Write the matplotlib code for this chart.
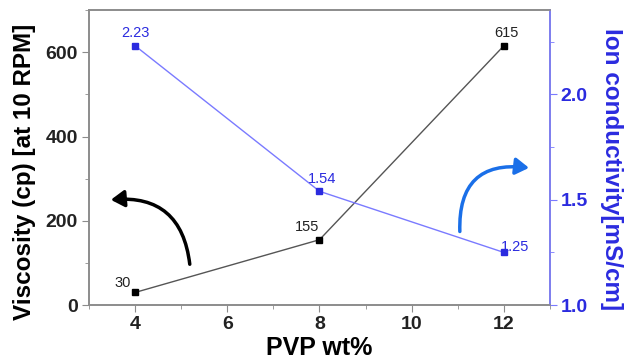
import matplotlib
matplotlib.use('Agg')
import matplotlib.pyplot as plt
from matplotlib.patches import FancyArrowPatch
from matplotlib.ticker import MultipleLocator

plt.rcParams['font.family'] = ['Liberation Sans', 'DejaVu Sans']

# data
pvp = [4, 8, 12]
viscosity = [30, 155, 615]
conductivity = [2.23, 1.54, 1.25]
visc_labels = ['30', '155', '615']
cond_labels = ['2.23', '1.54', '1.25']

blue = '#2b2bdf'
line_blue = '#7a7aff'
grey = '#8c8c8c'

fig = plt.figure(figsize=(6.24, 3.61), dpi=100)
ax = fig.add_axes([0.143, 0.155, 0.738, 0.817])
ax2 = ax.twinx()

ax.plot(pvp, viscosity, color='#555555', lw=1, marker='s', ms=5,
        mfc='black', mec='black')
ax2.plot(pvp, conductivity, color=line_blue, lw=1, marker='s', ms=5,
         mfc=blue, mec=blue)

# value labels
offs_v = [(-9, 2), (-9, 4), (2, 4)]
for x, y, t, o in zip(pvp, viscosity, visc_labels, offs_v):
    ax.annotate(t, (x, y), xytext=o, textcoords='offset points',
                ha='center', va='bottom', fontsize=10.5, color='#222222')
offs_c = [(0, 4), (2, 4), (8, -1)]
for x, y, t, o in zip(pvp, conductivity, cond_labels, offs_c):
    ax2.annotate(t, (x, y), xytext=o, textcoords='offset points',
                 ha='center', va='bottom', fontsize=10.5, color=blue)

ax.set_xlim(3, 13)
ax.set_ylim(0, 700)
ax2.set_ylim(1.0, 2.4)

ax.xaxis.set_major_locator(MultipleLocator(2))
ax.xaxis.set_minor_locator(MultipleLocator(1))
ax.yaxis.set_major_locator(MultipleLocator(200))
ax.yaxis.set_minor_locator(MultipleLocator(100))
ax2.yaxis.set_major_locator(MultipleLocator(0.5))
ax2.yaxis.set_minor_locator(MultipleLocator(0.25))

for a in (ax, ax2):
    for s in a.spines.values():
        s.set_color(grey)
        s.set_linewidth(1.2)
ax2.spines['right'].set_color(line_blue)

ax.tick_params(which='both', direction='out', color=grey, labelsize=14,
               top=False, right=False, pad=3)
ax.tick_params(which='major', length=5)
ax.tick_params(which='minor', length=3)
ax2.tick_params(which='both', direction='out', color=line_blue,
                labelcolor=blue, labelsize=14, pad=3)
ax2.tick_params(which='major', length=5)
ax2.tick_params(which='minor', length=3)
for lab in ax.get_xticklabels() + ax.get_yticklabels() + ax2.get_yticklabels():
    lab.set_fontweight('bold')
ax.tick_params(axis='both', labelcolor='#222222')

ax.set_xlabel('PVP wt%', fontsize=18, fontweight='bold', labelpad=2)
ax.set_ylabel('Viscosity (cp) [at 10 RPM]', fontsize=17.5, fontweight='bold',
              labelpad=7)
ax2.set_ylabel('Ion conductivity[mS/cm]', fontsize=17.5, fontweight='bold',
               color=blue, rotation=270, labelpad=25)
ax.yaxis.label.set_y(0.45)
ax2.yaxis.label.set_y(0.46)

# curved arrows pointing to the matching axis
arr1 = FancyArrowPatch((0.219, 0.129), (0.041, 0.356), transform=ax.transAxes,
                       connectionstyle='arc3,rad=0.5',
                       arrowstyle='-|>,head_length=8,head_width=5',
                       color='black', lw=2.5, mutation_scale=1)
ax.add_patch(arr1)
arr2 = FancyArrowPatch((0.805, 0.24), (0.961, 0.464), transform=ax.transAxes,
                       connectionstyle='arc3,rad=-0.6',
                       arrowstyle='-|>,head_length=8,head_width=5',
                       color='#1a6fe8', lw=2.5, mutation_scale=1)
ax.add_patch(arr2)

fig.savefig('out.png', dpi=100)
